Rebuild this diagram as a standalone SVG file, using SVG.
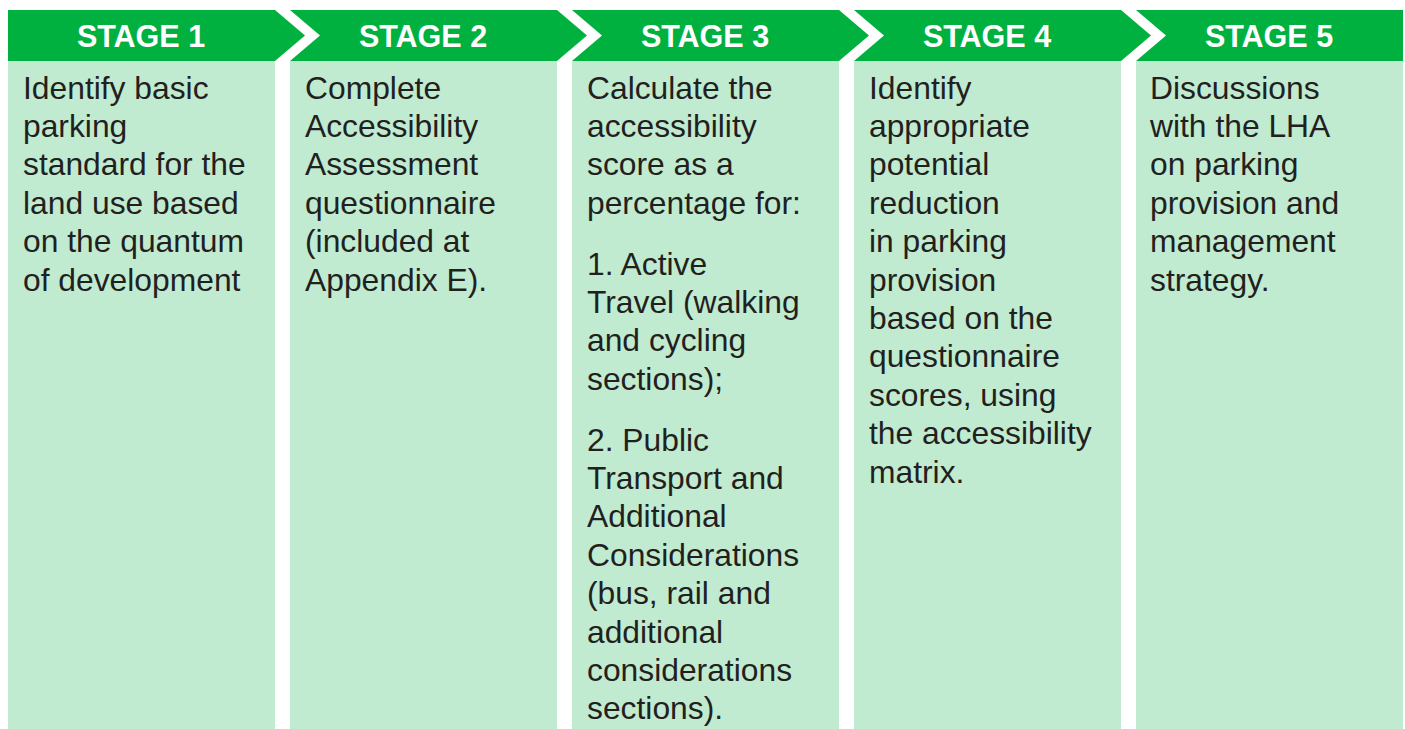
<svg xmlns="http://www.w3.org/2000/svg" width="1405" height="729" viewBox="0 0 1405 729">
<style>
.body{fill:#c0ebd0}
.head{fill:#00b140}
.ht{font-family:"Liberation Sans",Arial,sans-serif;font-weight:bold;font-size:30.5px;fill:#ffffff;text-anchor:middle}
.bt{font-family:"Liberation Sans",Arial,sans-serif;font-size:31.8px;fill:#231f20}
</style>
<rect width="1405" height="729" fill="#ffffff"/>
<g id="connectors"></g>
<g id="stage1">
<rect class="body" x="8" y="61" width="267" height="668"/>
<polygon class="head" points="8,10 275,10 305,35.5 275,61 8,61"/>
<text class="ht" x="141" y="47">STAGE 1</text>
<text class="bt"><tspan x="23" y="98.5">Identify basic</tspan><tspan x="23" y="136.9">parking</tspan><tspan x="23" y="175.3">standard for the</tspan><tspan x="23" y="213.7">land use based</tspan><tspan x="23" y="252.1">on the quantum</tspan><tspan x="23" y="290.5">of development</tspan></text>
</g>
<g id="stage2">
<rect class="body" x="290" y="61" width="267" height="668"/>
<polygon class="head" points="290,10 557,10 587,35.5 557,61 290,61 320,35.5"/>
<text class="ht" x="423" y="47">STAGE 2</text>
<text class="bt"><tspan x="305" y="98.5">Complete</tspan><tspan x="305" y="136.9">Accessibility</tspan><tspan x="305" y="175.3">Assessment</tspan><tspan x="305" y="213.7">questionnaire</tspan><tspan x="305" y="252.1">(included at</tspan><tspan x="305" y="290.5">Appendix E).</tspan></text>
</g>
<g id="stage3">
<rect class="body" x="572" y="61" width="267" height="668"/>
<polygon class="head" points="572,10 839,10 869,35.5 839,61 572,61 602,35.5"/>
<text class="ht" x="705" y="47">STAGE 3</text>
<text class="bt"><tspan x="587" y="98.5">Calculate the</tspan><tspan x="587" y="136.9">accessibility</tspan><tspan x="587" y="175.3">score as a</tspan><tspan x="587" y="213.7">percentage for:</tspan><tspan x="587" y="274.5">1. Active</tspan><tspan x="587" y="312.9">Travel (walking</tspan><tspan x="587" y="351.3">and cycling</tspan><tspan x="587" y="389.7">sections);</tspan><tspan x="587" y="450.5">2. Public</tspan><tspan x="587" y="488.9">Transport and</tspan><tspan x="587" y="527.3">Additional</tspan><tspan x="587" y="565.7">Considerations</tspan><tspan x="587" y="604.1">(bus, rail and</tspan><tspan x="587" y="642.5">additional</tspan><tspan x="587" y="680.9">considerations</tspan><tspan x="587" y="719.3">sections).</tspan></text>
</g>
<g id="stage4">
<rect class="body" x="854" y="61" width="267" height="668"/>
<polygon class="head" points="854,10 1121,10 1151,35.5 1121,61 854,61 884,35.5"/>
<text class="ht" x="987" y="47">STAGE 4</text>
<text class="bt"><tspan x="869" y="98.5">Identify</tspan><tspan x="869" y="136.9">appropriate</tspan><tspan x="869" y="175.3">potential</tspan><tspan x="869" y="213.7">reduction</tspan><tspan x="869" y="252.1">in parking</tspan><tspan x="869" y="290.5">provision</tspan><tspan x="869" y="328.9">based on the</tspan><tspan x="869" y="367.3">questionnaire</tspan><tspan x="869" y="405.7">scores, using</tspan><tspan x="869" y="444.1">the accessibility</tspan><tspan x="869" y="482.5">matrix.</tspan></text>
</g>
<g id="stage5">
<rect class="body" x="1136" y="61" width="267" height="668"/>
<polygon class="head" points="1136,10 1403,10 1403,61 1136,61 1166,35.5"/>
<text class="ht" x="1269" y="47">STAGE 5</text>
<text class="bt"><tspan x="1150" y="98.5">Discussions</tspan><tspan x="1150" y="136.9">with the LHA</tspan><tspan x="1150" y="175.3">on parking</tspan><tspan x="1150" y="213.7">provision and</tspan><tspan x="1150" y="252.1">management</tspan><tspan x="1150" y="290.5">strategy.</tspan></text>
</g>
</svg>
